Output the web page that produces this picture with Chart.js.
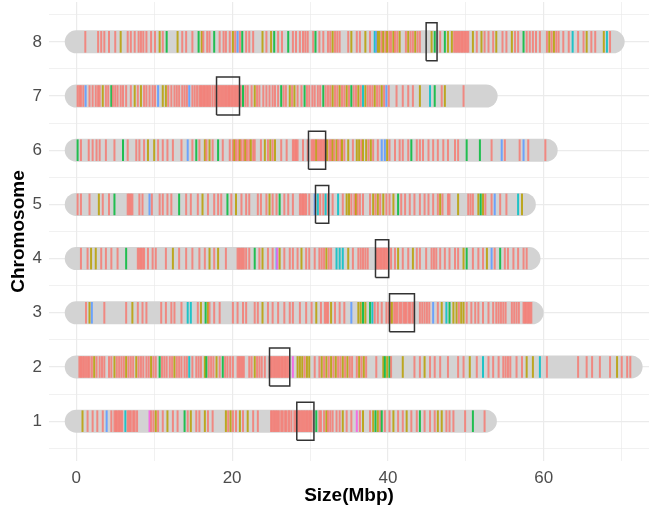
<!DOCTYPE html>
<html>
<head>
<meta charset="utf-8">
<script src="https://cdn.jsdelivr.net/npm/chart.js@4.4.0/dist/chart.umd.min.js"></script>
<style>
  html, body { margin: 0; padding: 0; background: #fff; }
  #wrap { width: 649px; height: 512px; }
</style>
</head>
<body>
<div id="wrap"><canvas id="chart"></canvas></div>
<script>
// chromosome sizes and centromere spans, Mbp
const chromosomes = [1, 2, 3, 4, 5, 6, 7, 8];
const chromLength = [52.5, 71.2, 58.5, 58.1, 57.5, 60.3, 52.6, 68.9];
const centStart = [28.3, 24.8, 40.2, 38.4, 30.7, 29.8, 18.0, 44.9];
const centEnd = [30.5, 27.4, 43.4, 40.1, 32.4, 32.0, 20.95, 46.3];
const xTicks = [0, 20, 40, 60];

// gene class colours (ggplot hue palette)
const geneColors = [
  'rgba(248,118,109,0.8)',
  'rgba(183,159,0,0.85)',
  'rgba(0,186,56,0.85)',
  'rgba(0,191,196,0.85)',
  'rgba(97,156,255,0.9)',
  'rgba(245,100,227,0.9)'
];

// [position (Mbp), gene class]
const genes1 = [[0.8,1],[1.45,0],[2.1,0],[2.7,0],[3.4,0],[3.9,4],[4.5,0],[4.9,0],[5.1,0],[5.3,0],[5.5,0],[5.7,0],[5.9,0],[6.3,3],[6.6,0],[6.8,0],[7.0,0],[7.3,0],[7.5,0],[7.8,0],[9.4,5],[9.6,0],[9.9,0],[10.2,1],[10.5,0],[11.1,0],[11.7,1],[12.4,0],[13.0,0],[13.9,2],[14.3,0],[14.7,1],[15.4,0],[15.8,0],[16.5,1],[16.9,0],[17.5,0],[19.2,1],[19.5,0],[19.8,1],[20.1,0],[20.5,0],[21.0,1],[21.4,0],[22.0,1],[22.7,0],[23.3,0],[25.0,0],[25.2,0],[25.4,0],[25.6,0],[25.8,0],[26.0,0],[26.3,0],[26.5,0],[26.8,0],[27.0,0],[27.3,0],[27.6,0],[28.0,0],[28.2,0],[28.4,0],[28.6,0],[28.8,0],[29.0,0],[29.2,0],[29.4,0],[29.6,0],[29.8,0],[30.0,0],[30.2,0],[30.8,2],[31.2,0],[31.4,0],[31.8,0],[32.1,1],[32.3,0],[32.6,0],[32.9,0],[33.4,0],[33.8,0],[34.2,1],[34.7,0],[35.3,0],[36.0,5],[36.4,0],[36.8,1],[37.7,0],[38.1,1],[38.4,2],[38.7,1],[39.0,0],[39.2,2],[39.6,0],[40.2,0],[40.7,1],[41.3,0],[41.9,0],[42.4,1],[43.0,0],[43.7,0],[44.1,2],[44.7,0],[45.4,0],[46.0,0],[46.4,1],[46.9,1],[47.5,0],[47.9,0],[48.4,0],[49.9,0],[50.9,2],[52.4,0]];
const genes2 = [[0.4,0],[0.6,0],[0.8,0],[1.0,0],[1.25,0],[1.5,0],[1.7,0],[2.0,0],[2.3,1],[2.6,0],[3.0,0],[3.3,0],[3.6,0],[4.2,0],[4.5,0],[4.9,1],[5.2,0],[5.5,0],[5.8,0],[6.1,0],[6.4,1],[6.7,0],[7.0,0],[7.3,0],[7.7,1],[8.0,0],[8.3,0],[8.6,0],[9.0,0],[9.3,0],[9.6,1],[9.9,0],[10.2,0],[10.7,2],[11.0,0],[11.3,0],[11.6,0],[12.0,0],[12.3,0],[12.6,1],[12.9,0],[13.2,0],[13.5,0],[13.9,0],[14.2,0],[14.5,3],[14.9,0],[15.4,0],[15.7,0],[16.0,0],[16.5,1],[16.7,2],[17.0,0],[17.3,0],[17.6,0],[18.0,1],[18.4,0],[18.8,2],[19.1,0],[19.4,0],[19.75,0],[20.1,0],[20.7,0],[20.9,0],[21.1,0],[21.3,0],[21.5,0],[22.2,0],[22.5,0],[22.9,1],[23.2,0],[23.5,0],[23.8,0],[24.2,0],[24.8,0],[25.0,0],[25.2,0],[25.4,0],[25.6,0],[25.8,0],[26.0,0],[26.2,0],[26.4,0],[26.6,0],[26.8,0],[27.0,0],[27.2,0],[27.8,5],[28.4,1],[28.7,1],[29.0,1],[29.3,0],[29.6,1],[29.9,1],[30.6,0],[31.2,0],[31.5,1],[31.8,0],[32.1,1],[32.4,0],[32.7,1],[33.0,0],[33.3,1],[33.6,0],[33.9,0],[34.2,1],[34.5,0],[34.8,1],[35.1,0],[35.4,0],[36.0,0],[36.3,1],[36.6,0],[36.9,1],[37.2,0],[38.5,0],[39.4,1],[39.6,2],[39.9,1],[40.2,2],[40.4,0],[41.9,1],[43.4,0],[44.1,0],[44.7,1],[45.4,0],[46.0,0],[46.7,0],[47.7,0],[49.0,0],[49.7,0],[50.5,1],[51.4,0],[52.2,3],[52.9,0],[53.5,0],[54.2,0],[54.8,0],[55.1,0],[55.4,0],[55.7,0],[56.5,0],[57.2,0],[57.8,1],[58.6,1],[59.5,3],[60.4,0],[64.4,0],[65.5,0],[66.2,0],[67.2,0],[68.5,0],[69.4,1],[70.0,0],[70.7,0],[71.1,0]];
const genes3 = [[1.25,0],[1.7,1],[2.0,4],[3.6,0],[6.4,0],[7.2,1],[7.9,0],[8.5,0],[9.0,0],[10.9,0],[11.5,0],[12.2,0],[12.6,0],[13.5,0],[14.3,3],[14.7,3],[15.6,0],[16.0,1],[16.6,2],[16.9,1],[17.1,0],[17.7,0],[18.4,0],[20.1,0],[20.7,0],[21.4,0],[21.8,0],[22.9,0],[23.3,0],[23.9,1],[24.6,0],[25.2,0],[25.9,0],[26.7,0],[27.4,0],[27.8,0],[28.7,0],[29.5,0],[30.2,0],[30.8,1],[31.4,0],[31.9,0],[32.1,0],[32.3,0],[32.7,1],[33.2,0],[33.8,0],[34.4,0],[35.3,4],[36.2,1],[36.5,1],[36.8,2],[37.1,1],[37.7,2],[38.0,3],[38.3,0],[38.7,0],[39.2,0],[39.8,0],[40.1,0],[40.3,0],[40.5,1],[40.8,0],[41.0,0],[41.2,0],[41.5,0],[41.7,0],[42.0,0],[42.2,0],[42.4,0],[42.7,0],[42.9,0],[43.2,0],[44.1,0],[44.4,0],[44.7,0],[45.0,0],[45.3,0],[45.8,4],[46.4,0],[46.9,1],[47.5,3],[47.9,2],[48.4,1],[48.8,1],[49.1,0],[49.4,1],[49.7,1],[50.1,0],[50.7,0],[51.2,0],[51.6,0],[52.2,0],[52.9,0],[53.5,0],[53.9,0],[54.2,0],[54.5,0],[54.8,0],[55.1,0],[55.9,0],[56.2,0],[56.5,0],[56.8,0],[57.4,0],[57.6,0],[57.8,0],[58.0,0],[58.2,0],[58.4,0]];
const genes4 = [[0.6,0],[1.45,0],[1.9,1],[2.5,1],[3.2,0],[3.8,0],[4.5,0],[5.3,0],[6.4,2],[7.9,0],[8.1,0],[8.3,0],[8.5,0],[8.7,0],[9.2,0],[9.8,0],[10.2,0],[11.5,0],[12.4,1],[13.2,0],[14.1,0],[14.9,0],[15.8,0],[16.5,0],[17.1,1],[17.7,0],[18.2,1],[19.2,0],[20.7,0],[20.9,0],[21.1,0],[21.3,0],[21.5,0],[21.8,0],[22.2,0],[22.9,2],[23.5,0],[23.9,1],[24.6,0],[25.2,0],[25.7,4],[25.8,5],[26.1,1],[26.7,0],[27.4,0],[27.8,0],[28.4,0],[28.9,1],[29.5,0],[29.9,0],[30.6,0],[31.2,0],[31.5,0],[31.8,0],[32.1,1],[32.4,0],[32.7,0],[33.4,3],[33.8,3],[34.2,3],[34.9,1],[35.5,0],[36.2,0],[36.5,0],[36.8,0],[37.1,0],[37.4,0],[38.5,0],[38.7,0],[38.9,0],[39.1,0],[39.3,0],[39.5,0],[39.7,0],[39.9,0],[40.4,0],[40.9,0],[41.3,1],[41.9,0],[42.6,0],[43.2,1],[43.7,0],[44.1,0],[44.9,0],[45.6,0],[45.9,0],[46.2,0],[46.7,0],[47.3,0],[47.9,0],[48.6,0],[49.0,0],[49.7,1],[50.1,2],[50.9,0],[51.6,0],[52.2,0],[52.7,1],[53.3,4],[53.7,0],[54.4,2],[55.0,0],[55.4,0],[56.1,0],[56.7,0],[57.4,0],[57.8,0]];
const genes5 = [[0.17,0],[0.6,0],[1.7,0],[2.9,1],[3.4,0],[4.2,0],[4.9,2],[6.6,0],[6.8,0],[7.0,0],[7.2,0],[8.1,0],[8.5,0],[9.4,4],[9.7,0],[10.7,0],[11.1,0],[11.7,0],[12.2,0],[13.2,2],[14.1,0],[14.7,0],[15.6,0],[16.2,1],[16.9,0],[17.7,0],[18.2,0],[18.6,0],[19.4,2],[19.9,0],[20.5,1],[21.2,0],[21.8,0],[22.2,0],[23.3,0],[23.7,0],[24.4,0],[24.8,1],[25.2,0],[25.7,0],[26.1,2],[26.7,0],[27.2,0],[27.8,0],[28.7,0],[28.9,0],[29.1,0],[29.3,0],[29.5,0],[29.9,0],[30.6,4],[31.0,3],[31.3,0],[31.7,0],[32.0,3],[32.3,0],[32.9,0],[33.6,3],[34.2,0],[34.7,1],[35.0,1],[35.3,0],[35.7,0],[35.9,1],[36.1,0],[36.4,0],[36.8,0],[37.7,0],[38.1,1],[38.4,0],[38.7,1],[39.0,0],[39.4,1],[39.8,0],[40.2,0],[40.7,1],[41.3,2],[41.7,0],[42.2,0],[42.8,0],[43.4,0],[44.1,0],[44.7,0],[45.2,0],[45.8,0],[46.4,0],[46.7,1],[47.0,0],[47.7,0],[47.9,0],[49.0,1],[50.3,0],[50.6,0],[50.9,0],[51.6,1],[51.9,2],[52.2,1],[52.5,0],[53.3,0],[53.7,4],[54.4,0],[55.2,0],[56.7,3],[57.2,1]];
const genes6 = [[0.17,2],[0.6,0],[1.6,0],[2.1,0],[2.6,0],[3.0,0],[3.8,0],[4.9,0],[6.0,2],[6.6,0],[7.7,0],[8.1,0],[8.7,0],[9.2,1],[10.0,1],[10.5,0],[11.1,0],[11.7,0],[12.4,0],[13.5,0],[14.3,4],[14.9,0],[15.4,2],[15.8,0],[16.5,1],[16.7,0],[17.1,1],[17.5,0],[18.2,2],[18.8,0],[19.7,0],[20.1,0],[20.3,1],[20.5,0],[20.8,0],[21.0,1],[21.2,0],[21.5,0],[21.7,1],[21.9,0],[22.2,0],[22.4,1],[22.7,0],[22.9,0],[23.7,0],[24.2,1],[24.6,0],[24.9,1],[25.2,0],[25.5,1],[26.3,0],[27.0,0],[27.8,0],[28.0,0],[28.2,0],[28.4,0],[29.1,0],[29.7,0],[30.2,0],[30.4,0],[30.6,0],[30.8,1],[31.0,0],[31.2,0],[31.4,0],[31.6,0],[31.8,0],[32.0,0],[32.2,1],[32.5,0],[32.7,0],[32.9,1],[33.1,0],[33.4,1],[33.6,0],[33.9,0],[34.1,1],[34.4,0],[34.9,1],[35.5,0],[36.0,1],[36.3,1],[36.6,0],[36.8,1],[37.2,1],[37.5,0],[37.8,1],[38.1,0],[38.7,0],[39.2,4],[39.6,4],[39.9,1],[40.2,0],[40.9,0],[41.5,0],[41.9,0],[42.6,0],[43.0,2],[43.7,0],[44.1,0],[44.5,0],[45.2,0],[45.8,0],[46.4,0],[47.1,0],[47.7,0],[48.6,0],[49.0,0],[50.1,2],[51.8,2],[53.3,0],[54.6,4],[55.0,0],[56.9,0],[57.4,4],[58.0,0],[60.2,0]];
const genes7 = [[0.17,0],[0.4,0],[0.6,0],[0.9,0],[1.2,4],[1.7,0],[2.1,0],[2.5,0],[2.8,0],[3.0,0],[3.4,1],[3.8,0],[4.1,0],[4.5,2],[4.7,0],[5.0,0],[5.3,0],[5.7,0],[6.0,0],[6.4,0],[7.0,0],[7.5,1],[7.9,0],[8.3,1],[8.7,0],[9.0,0],[9.4,0],[9.8,0],[10.1,0],[10.5,4],[11.1,1],[11.5,1],[11.8,0],[12.2,0],[12.6,0],[12.9,0],[13.2,0],[13.6,0],[13.9,0],[14.2,0],[14.5,4],[14.9,0],[15.2,0],[15.5,0],[15.8,0],[16.0,0],[16.2,0],[16.4,0],[16.6,0],[16.8,0],[17.0,0],[17.2,0],[17.5,0],[17.8,0],[18.2,0],[18.4,0],[18.6,0],[18.8,0],[19.0,0],[19.2,0],[19.4,0],[19.6,0],[19.8,0],[20.0,0],[20.2,0],[20.4,0],[20.6,0],[20.8,0],[21.1,0],[21.4,2],[21.7,0],[22.0,0],[22.5,0],[22.9,1],[23.2,0],[23.5,0],[24.0,0],[24.4,0],[24.8,0],[25.2,0],[25.5,0],[25.9,0],[26.3,2],[26.6,0],[26.9,0],[27.4,1],[27.7,0],[28.0,1],[28.4,0],[28.9,0],[29.3,2],[29.6,0],[29.9,0],[30.3,0],[30.6,0],[31.0,0],[31.3,0],[31.7,2],[32.0,0],[32.3,0],[32.6,0],[32.9,1],[33.2,0],[33.5,0],[33.8,1],[34.1,0],[34.4,0],[34.7,1],[35.0,0],[35.3,2],[35.6,0],[35.9,0],[36.2,1],[36.5,0],[36.8,3],[37.1,1],[37.4,0],[37.7,0],[38.0,0],[38.3,1],[38.6,0],[38.9,0],[39.2,1],[39.5,0],[39.8,4],[40.1,0],[41.1,0],[41.9,0],[42.6,0],[43.2,0],[44.1,1],[45.4,3],[46.0,2],[46.9,0],[47.3,1],[49.7,0]];
const genes8 = [[1.16,0],[2.8,0],[3.2,0],[3.6,0],[4.2,0],[5.0,0],[5.7,1],[6.6,0],[7.0,0],[7.5,0],[8.0,0],[8.3,0],[8.6,0],[9.0,0],[9.6,0],[10.1,0],[10.7,1],[11.1,0],[11.6,2],[13.0,1],[13.6,0],[14.1,0],[14.9,0],[15.7,2],[16.1,1],[16.3,0],[16.8,0],[17.1,0],[17.7,2],[18.4,0],[18.9,0],[19.2,0],[19.7,0],[20.1,1],[20.4,0],[20.7,4],[21.0,0],[21.3,2],[21.8,0],[22.2,0],[22.7,0],[23.9,1],[24.4,0],[25.0,1],[25.4,2],[25.9,0],[26.4,0],[27.2,2],[27.8,0],[28.2,0],[28.7,0],[29.1,0],[29.4,0],[29.7,0],[30.4,0],[30.7,2],[31.2,0],[31.7,0],[32.3,0],[32.6,0],[32.9,1],[33.2,0],[33.5,0],[33.8,0],[34.9,0],[35.3,1],[36.0,0],[36.4,0],[37.1,1],[37.7,0],[38.3,3],[38.5,4],[38.7,1],[38.9,1],[39.2,0],[39.4,1],[39.7,0],[39.9,1],[40.2,0],[40.4,0],[40.7,1],[40.9,0],[41.2,0],[41.5,1],[42.3,0],[42.6,1],[42.9,0],[43.2,0],[43.5,1],[43.8,0],[44.1,0],[45.6,1],[46.0,2],[46.7,0],[47.3,2],[47.7,1],[48.2,1],[48.5,0],[48.7,0],[48.9,0],[49.1,0],[49.3,0],[49.5,0],[49.7,0],[49.9,0],[50.1,0],[50.3,0],[50.9,1],[51.4,0],[52.0,1],[52.4,0],[52.9,0],[53.5,0],[53.9,1],[54.7,0],[55.2,0],[55.9,1],[56.3,0],[56.7,0],[57.4,2],[57.8,0],[58.2,0],[58.6,0],[59.0,0],[59.5,0],[60.4,0],[60.7,1],[61.0,0],[61.3,1],[61.6,0],[61.9,0],[62.5,0],[63.2,0],[63.7,3],[64.4,0],[65.1,0],[65.5,1],[66.1,0],[66.6,0],[67.7,1],[68.1,3],[68.5,0]];
const geneSets = [genes1, genes2, genes3, genes4, genes5, genes6, genes7, genes8];

Chart.defaults.font.family = "'Liberation Sans', Arial, sans-serif";
Chart.defaults.animation = false;

var datasets = [];

// grey chromosome bodies with round ends
chromosomes.forEach(function(c, i) {
  datasets.push({
    type: 'line',
    data: [{x: 0, y: c}, {x: chromLength[i], y: c}],
    borderColor: '#D3D3D3',
    borderWidth: 23,
    borderCapStyle: 'round',
    pointRadius: 0,
    order: 3
  });
});

// one vertical tick per gene
var genePts = [];
geneSets.forEach(function(set, i) {
  set.forEach(function(g) {
    genePts.push({x: g[0], y: chromosomes[i], t: g[1]});
  });
});
datasets.push({
  type: 'scatter',
  data: genePts,
  pointStyle: 'line',
  pointRotation: 90,
  pointRadius: 10.8,
  pointHoverRadius: 10.8,
  pointBorderWidth: 2,
  pointBorderColor: function(ctx) { return ctx.raw ? geneColors[ctx.raw.t] : geneColors[0]; },
  order: 2
});

// centromere boxes
var half = 0.35;
chromosomes.forEach(function(c, i) {
  var s = centStart[i], e = centEnd[i];
  datasets.push({
    type: 'line',
    data: [{x: s, y: c - half}, {x: e, y: c - half}, {x: e, y: c + half}, {x: s, y: c + half}, {x: s, y: c - half}],
    borderColor: '#333333',
    borderWidth: 1.5,
    borderJoinStyle: 'miter',
    pointRadius: 0,
    fill: false,
    order: 1
  });
});

new Chart(document.getElementById('chart'), {
  type: 'scatter',
  data: {datasets: datasets},
  options: {
    responsive: true,
    maintainAspectRatio: false,
    layout: {autoPadding: false, padding: {top: 2, left: 0, right: 0, bottom: 0}},
    plugins: {legend: {display: false}, tooltip: {enabled: false}},
    scales: {
      x: {
        type: 'linear',
        min: -3.5,
        max: 73.5,
        border: {display: false},
        grid: {
          drawTicks: false,
          color: '#EBEBEB',
          lineWidth: function(ctx) {
            return ctx.tick && xTicks.indexOf(ctx.tick.value) >= 0 ? 1.2 : 0.7;
          }
        },
        ticks: {
          stepSize: 10,
          includeBounds: false,
          autoSkip: false,
          maxRotation: 0,
          padding: 7,
          color: '#4D4D4D',
          font: {size: 17},
          callback: function(v) { return xTicks.indexOf(v) >= 0 ? String(v) : ''; }
        },
        title: {
          display: true,
          text: 'Size(Mbp)',
          color: '#000',
          font: {size: 19, weight: 'bold'},
          padding: {top: 0, bottom: 5}
        },
        afterFit: function(s) { s.height = 51; s.paddingLeft = 0; s.paddingRight = 0; }
      },
      y: {
        type: 'linear',
        min: 0.265,
        max: 8.735,
        border: {display: false},
        grid: {
          drawTicks: false,
          color: '#EBEBEB',
          lineWidth: function(ctx) {
            return ctx.tick && Number.isInteger(ctx.tick.value) ? 1.2 : 0.7;
          }
        },
        ticks: {
          stepSize: 0.5,
          includeBounds: false,
          autoSkip: false,
          padding: 7,
          color: '#4D4D4D',
          font: {size: 17},
          callback: function(v) { return Number.isInteger(v) ? String(v) : ''; }
        },
        title: {
          display: true,
          text: 'Chromosome',
          color: '#000',
          font: {size: 19, weight: 'bold'},
          padding: {top: 7, bottom: 0}
        },
        afterFit: function(s) { s.width = 49; s.paddingTop = 0; s.paddingBottom = 0; }
      }
    }
  }
});
</script>
</body>
</html>
